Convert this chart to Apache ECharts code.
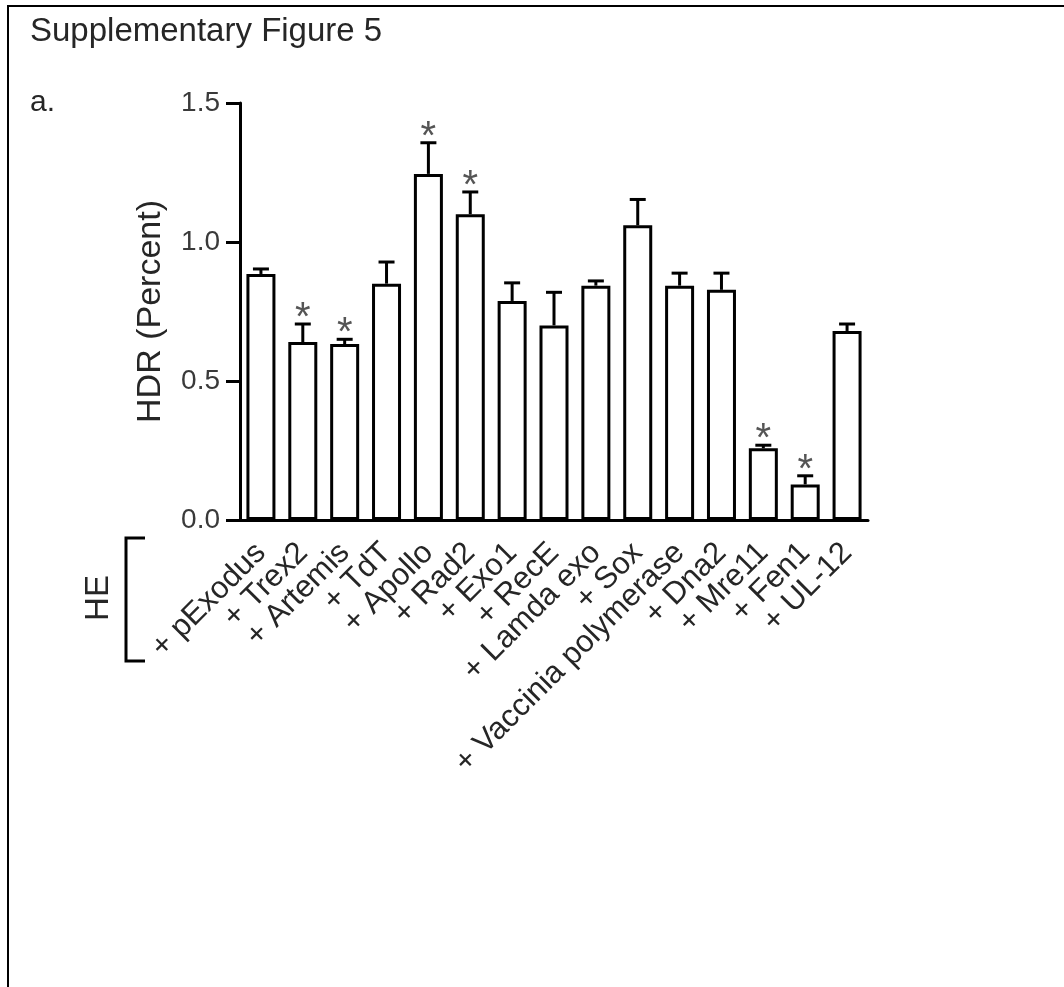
<!DOCTYPE html>
<html>
<head>
<meta charset="utf-8">
<title>Supplementary Figure 5</title>
<script src="https://cdn.jsdelivr.net/npm/echarts@6/dist/echarts.min.js"></script>
<style>
  html, body { margin: 0; padding: 0; background: #ffffff; }
  #chart { width: 1064px; height: 987px; }
</style>
</head>
<body>
<div id="chart"></div>
<script>
// Nuclease co-expression with HE: HDR frequency (mean ± error)
const categories = [
  '+ pExodus', '+ Trex2', '+ Artemis', '+ TdT', '+ Apollo', '+ Rad2', '+ Exo1',
  '+ RecE', '+ Lamda exo', '+ Sox', '+ Vaccinia polymerase', '+ Dna2',
  '+ Mre11', '+ Fen1', '+ UL-12'
];
const hdrMean  = [0.885, 0.640, 0.633, 0.850, 1.245, 1.100, 0.788, 0.700, 0.843, 1.060, 0.843, 0.828, 0.258, 0.128, 0.680];
const hdrError = [0.018, 0.065, 0.017, 0.078, 0.112, 0.080, 0.065, 0.119, 0.017, 0.093, 0.045, 0.060, 0.011, 0.031, 0.025];
const significant = [false, true, true, false, true, true, false, false, false, false, false, false, true, true, false];
const yMin = 0, yMax = 1.5, yStep = 0.5;

const FONT = '"Liberation Sans", Arial, sans-serif';
const TEXT = '#262626';

const chart = echarts.init(document.getElementById('chart'), null, { renderer: 'canvas' });

const errorData = hdrMean.map((m, i) => [i, m, hdrError[i]]);
const starData = hdrMean.map((m, i) => [i, m + hdrError[i], significant[i] ? 1 : 0]);

chart.setOption({
  animation: false,
  backgroundColor: '#ffffff',
  grid: { left: 240, top: 103, width: 628, height: 417, containLabel: false },
  graphic: [
    // page frame
    { type: 'rect', shape: { x: 8, y: 6, width: 1200, height: 1200 },
      style: { fill: 'none', stroke: '#000', lineWidth: 2 }, silent: true },
    { type: 'text', left: 30, top: 15,
      style: { text: 'Supplementary Figure 5', font: '33px ' + FONT, fill: TEXT } },
    { type: 'text', left: 30, top: 88,
      style: { text: 'a.', font: '30px ' + FONT, fill: TEXT } },
    // HE bracket spanning the category labels
    { type: 'polyline', shape: { points: [[145, 538], [126, 538], [126, 661], [145, 661]] },
      style: { stroke: '#000', lineWidth: 3, fill: 'none' }, silent: true },
    { type: 'text', x: 99, y: 598, rotation: Math.PI / 2,
      style: { text: 'HE', font: '33px ' + FONT, fill: TEXT, align: 'center', verticalAlign: 'middle' } }
  ],
  xAxis: {
    type: 'category',
    data: categories,
    boundaryGap: true,
    axisLine: { lineStyle: { color: '#000', width: 3 } },
    axisTick: { alignWithLabel: true, length: 12, lineStyle: { color: '#000', width: 3 } },
    axisLabel: {
      interval: 0, rotate: 45, margin: 28,
      fontFamily: FONT, fontSize: 31, color: TEXT
    },
    splitLine: { show: false }
  },
  yAxis: {
    type: 'value',
    min: yMin, max: yMax, interval: yStep,
    name: 'HDR (Percent)',
    nameLocation: 'middle', nameGap: 72, nameRotate: 90,
    nameTextStyle: { fontFamily: FONT, fontSize: 34, color: TEXT },
    axisLine: { show: true, lineStyle: { color: '#000', width: 3 } },
    axisTick: { show: true, length: 14, lineStyle: { color: '#000', width: 3 } },
    axisLabel: {
      margin: 20, fontFamily: FONT, fontSize: 28, color: '#3a3a3a',
      formatter: v => v.toFixed(1)
    },
    splitLine: { show: false }
  },
  series: [
    {
      type: 'bar',
      data: hdrMean,
      barWidth: 29,
      itemStyle: { color: '#ffffff', borderColor: '#000', borderWidth: 3 },
      z: 2
    },
    {
      type: 'custom',
      data: errorData,
      z: 3,
      renderItem: (params, api) => {
        const i = api.value(0), m = api.value(1), e = api.value(2);
        const base = api.coord([i, m]);
        const top = api.coord([i, m + e]);
        const half = 8;
        return {
          type: 'group',
          children: [
            { type: 'line', shape: { x1: base[0], y1: base[1], x2: top[0], y2: top[1] },
              style: { stroke: '#000', lineWidth: 3 } },
            { type: 'line', shape: { x1: top[0] - half, y1: top[1], x2: top[0] + half, y2: top[1] },
              style: { stroke: '#000', lineWidth: 3 } }
          ]
        };
      }
    },
    {
      type: 'custom',
      data: starData,
      z: 4,
      renderItem: (params, api) => {
        if (!api.value(2)) return null;
        const p = api.coord([api.value(0), api.value(1)]);
        return {
          type: 'text',
          x: p[0], y: p[1] + 15,
          style: { text: '*', font: '40px ' + FONT, fill: '#555', align: 'center', verticalAlign: 'bottom' }
        };
      }
    }
  ]
});
</script>
</body>
</html>
